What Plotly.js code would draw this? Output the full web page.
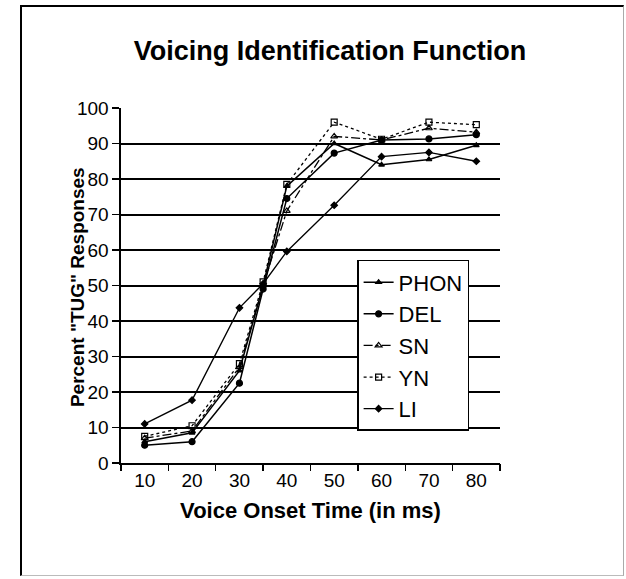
<!DOCTYPE html>
<html>
<head>
<meta charset="utf-8">
<script src="https://cdn.plot.ly/plotly-3.0.1.min.js"></script>
<style>
  html, body { margin: 0; padding: 0; background: #fff; }
  #chart { width: 626px; height: 579px; position: relative; }
  #frame { position: absolute; left: 20px; top: 5px; width: 604px; height: 571px;
           border-top: 2px solid #000; border-left: 2px solid #000;
           border-right: 1px solid #aaa; border-bottom: 1px solid #bbb;
           pointer-events: none; box-sizing: border-box; }
</style>
</head>
<body>
<div id="chart"><div id="frame"></div></div>
<script>
// Voice onset time (ms)
const vot = [10, 20, 30, 35, 40, 50, 60, 70, 80];
const xTickVals = [10, 20, 30, 40, 50, 60, 70, 80];
const xTickText = ["10", "20", "30", "40", "50", "60", "70", "80"];
const xBoundaryTicks = [5, 15, 25, 35, 45, 55, 65, 75, 85];
const yTickVals = [0, 10, 20, 30, 40, 50, 60, 70, 80, 90, 100];

// Percent "TUG" responses per group
const PHON = [6, 8.5, 26, 50, 78, 90, 84, 85.5, 89.5];
const DEL  = [5, 6, 22.5, 49, 74.5, 87.3, 91, 91.3, 92.5];
const SN   = [7, 9, 27, 50, 71, 92, 91, 94.3, 93.2];
const YN   = [7.5, 10.5, 28, 51, 78.5, 96, 91.2, 96, 95.3];
const LI   = [11, 17.7, 43.7, 50.5, 59.6, 72.6, 86.3, 87.5, 85];

const seriesNames = ["PHON", "DEL", "SN", "YN", "LI"];
const seriesData = [PHON, DEL, SN, YN, LI];
const styles = [
  {dash: "solid",   symbol: "triangle-up",      size: 5, lw: 1.5},
  {dash: "solid",   symbol: "circle",           size: 6, lw: 1.5},
  {dash: "dashdot", symbol: "triangle-up-open", size: 6, lw: 1.3},
  {dash: "dot",     symbol: "square-open",      size: 6, lw: 1.3},
  {dash: "solid",   symbol: "diamond",          size: 5, lw: 1.3}
];

const traces = seriesNames.map((name, i) => ({
  type: "scatter",
  mode: "lines+markers",
  name: name,
  legendgroup: name,
  x: vot,
  y: seriesData[i],
  line: {color: "#000", width: styles[i].lw, dash: styles[i].dash},
  marker: {color: "#000", symbol: styles[i].symbol, size: styles[i].size,
           line: {color: "#000", width: 1.2}}
}));

// invisible trace on overlay axis for boundary tick marks
traces.push({type: "scatter", x: [5, 85], y: [0, 0], xaxis: "x2", mode: "none",
             showlegend: false, hoverinfo: "skip"});

const layout = {
  width: 626, height: 579,
  margin: {l: 121, r: 126, t: 108, b: 116},
  paper_bgcolor: "rgba(0,0,0,0)",
  plot_bgcolor: "#fff",
  font: {family: "Arial, 'Liberation Sans', sans-serif", color: "#000"},
  title: {text: "<b>Voicing Identification Function</b>",
          font: {size: 27, family: "Arial, 'Liberation Sans', sans-serif", color: "#000"},
          x: 0.527, xref: "container", xanchor: "center",
          y: 0.913, yref: "container", yanchor: "middle"},
  xaxis: {
    range: [5, 85], tickmode: "array", tickvals: xTickVals, ticktext: xTickText,
    ticks: "", showgrid: false, zeroline: false,
    showline: true, linecolor: "#000", linewidth: 1.6,
    tickfont: {size: 19}, fixedrange: true,
    title: {text: "<b>Voice Onset Time (in ms)</b>", font: {size: 22}, standoff: 12}
  },
  xaxis2: {
    overlaying: "x", matches: "x", range: [5, 85], tickmode: "array", tickvals: xBoundaryTicks,
    ticks: "outside", ticklen: 7, tickwidth: 1.3, tickcolor: "#000",
    showticklabels: false, showgrid: false, zeroline: false, showline: false
  },
  yaxis: {
    range: [0, 100], tickmode: "array", tickvals: yTickVals,
    ticks: "outside", ticklen: 7, tickwidth: 1.5, tickcolor: "#000",
    showgrid: true, gridcolor: "#000", gridwidth: 2,
    zeroline: false, showline: true, linecolor: "#000", linewidth: 1.6,
    tickfont: {size: 19}, fixedrange: true
  },
  annotations: [{
    text: "<b>Percent \"TUG\" Responses</b>", textangle: -90,
    xref: "paper", yref: "paper", x: -0.113, y: 0.496,
    xanchor: "center", yanchor: "middle", showarrow: false,
    font: {size: 19, color: "#000"}
  }],
  legend: {
    x: 0.623, y: 0.572, xanchor: "left", yanchor: "top",
    bgcolor: "#fff", bordercolor: "#000", borderwidth: 1.5,
    font: {size: 22, color: "#000"}, tracegroupgap: 0,
    itemwidth: 30
  },
  showlegend: true
};

Plotly.newPlot("chart", traces, layout, {displayModeBar: false, staticPlot: true}).then(() => {
  const f = document.getElementById("frame");
  document.getElementById("chart").appendChild(f);
});
</script>
</body>
</html>
